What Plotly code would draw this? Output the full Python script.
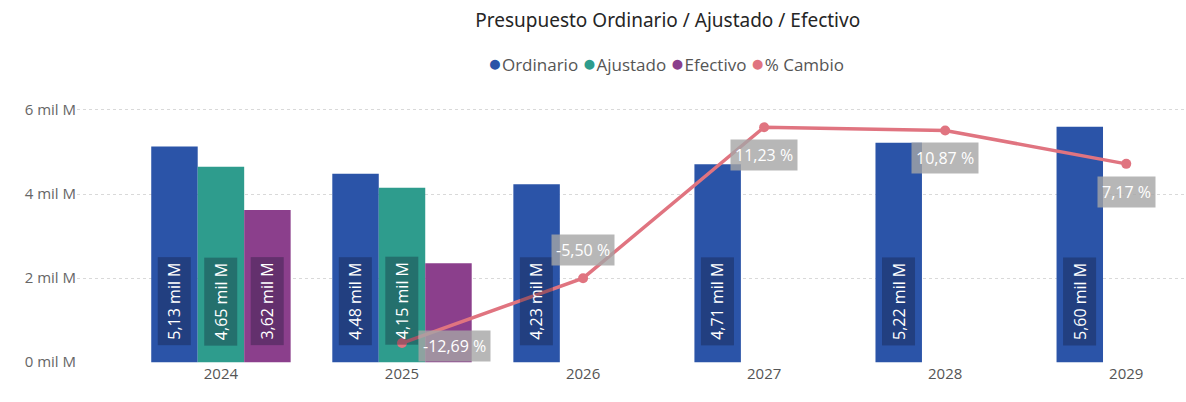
import plotly.graph_objects as go

# Budget figures (miles de millones) per year
years = ["2024", "2025", "2026", "2027", "2028", "2029"]
ordinario = [5.13, 4.48, 4.23, 4.71, 5.22, 5.60]
ajustado = [4.65, 4.15, None, None, None, None]
efectivo = [3.62, 2.35, None, None, None, None]
# Year-over-year change of the ordinary budget (%)
cambio = [None, -12.69, -5.50, 11.23, 10.87, 7.17]
y_ticks = [0, 2, 4, 6]

COL_ORD = "#2B54A8"
COL_AJU = "#2E9C8D"
COL_EFE = "#8B3F8C"
COL_CAM = "#E07480"
FONT = "Open Sans"

W, H = 1186, 402
M_L, M_R, M_T, M_B = 77, 0, 95, 39

BARGAP = 0.23
idx = list(range(len(years)))

fig = go.Figure()
series = [("Ordinario", ordinario, COL_ORD),
          ("Ajustado", ajustado, COL_AJU),
          ("Efectivo", efectivo, COL_EFE)]
for name, vals, col in series:
    fig.add_trace(go.Bar(
        x=idx, y=vals, name=name, marker=dict(color=col, line=dict(width=0)),
        showlegend=False, hoverinfo="skip"))

fig.add_trace(go.Scatter(
    x=idx, y=cambio, name="% Cambio", yaxis="y2", mode="lines+markers",
    line=dict(color=COL_CAM, width=3.5), marker=dict(size=10, color=COL_CAM),
    showlegend=False, connectgaps=False, hoverinfo="skip"))

# Compact legend with round swatches, placed above the plot area
legend_items = [("Ordinario", COL_ORD), ("Ajustado", COL_AJU),
                ("Efectivo", COL_EFE), ("% Cambio", COL_CAM)]
legend_text = " ".join(
    f"<span style='color:{c};font-size:23px'>●</span>{n}" for n, c in legend_items)
plot_h = H - M_T - M_B
plot_w = W - M_L - M_R
fig.add_annotation(
    text=legend_text,
    x=(666 - M_L) / plot_w, y=(H - M_B - 62) / plot_h,
    xref="paper", yref="paper",
    xanchor="center", yanchor="middle", showarrow=False,
    font=dict(family=FONT, size=17, color="#555555"))

# Value labels inside the bars (rotated, dark box)
bar_w = (1 - BARGAP) / len(series)
offsets = [-bar_w, 0.0, bar_w]
label_y = 1.45
for (name, vals, col), off in zip(series, offsets):
    for i, v in enumerate(vals):
        if v is None or v < 3:
            continue
        fig.add_annotation(
            x=i + off, y=label_y, xref="x", yref="y",
            text=f"{v:.2f}".replace(".", ",") + " mil M",
            textangle=-90, showarrow=False,
            font=dict(family=FONT, size=16, color="white"),
            bgcolor="rgba(15,20,45,0.32)", borderpad=5)

# Percentage labels next to the line points
pct_shift = {1: (52, 3), 2: (0, -28), 3: (0, 28), 4: (0, 28), 5: (0, 28)}
for i, v in enumerate(cambio):
    if v is None:
        continue
    dx, dy = pct_shift[i]
    fig.add_annotation(
        x=i, y=v, xref="x", yref="y2",
        text=f"{v:.2f}".replace(".", ",") + " %",
        showarrow=False, xshift=dx, yshift=-dy,
        font=dict(family=FONT, size=16, color="white"),
        bgcolor="rgba(165,165,165,0.8)", borderpad=4)

fig.update_layout(
    width=W, height=H,
    margin=dict(l=M_L, r=M_R, t=M_T, b=M_B),
    paper_bgcolor="white", plot_bgcolor="white",
    barmode="group", bargap=BARGAP, bargroupgap=0,
    showlegend=False,
    font=dict(family=FONT, color="#555555"),
    title=dict(text="Presupuesto Ordinario / Ajustado / Efectivo",
               x=0.563, xref="container", xanchor="center",
               y=0.95, yref="container", yanchor="middle",
               font=dict(family="Noto Sans", size=19, color="#252525")),
    xaxis=dict(range=[-0.795, 5.33], tickvals=idx, ticktext=years,
               showgrid=False, zeroline=False, showline=False,
               tickfont=dict(size=15, color="#555555"), ticks=""),
    yaxis=dict(range=[-0.02, 6.355], tickvals=y_ticks,
               ticktext=[f"{t} mil M" for t in y_ticks],
               showgrid=True, gridcolor="#d9d9d9", griddash="dot", gridwidth=1,
               zeroline=False, showline=False,
               tickfont=dict(size=15, color="#666666"), ticks=""),
    yaxis2=dict(range=[-14.9, 14.8], overlaying="y", visible=False),
)

fig.write_html("out.html")
